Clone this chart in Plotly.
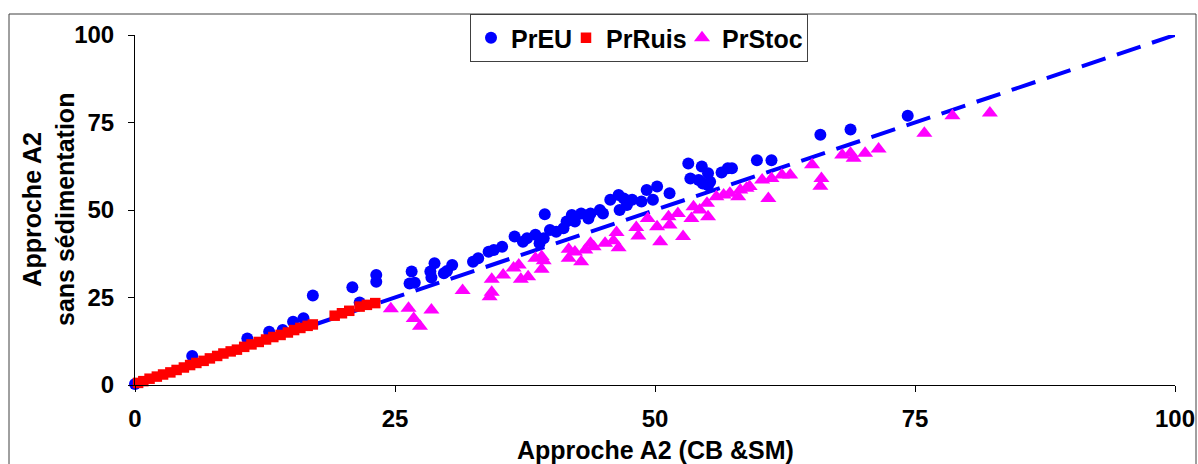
import plotly.graph_objects as go

# ---------------- data ----------------
preu_x = [0.0, 5.5, 10.8, 12.9, 14.2, 15.2, 16.2, 17.1, 20.9, 21.6, 23.2, 23.2, 26.6, 26.4, 26.9,
          28.4, 28.8, 28.5, 29.7, 30.0, 30.5, 32.5, 33.0, 34.0, 34.5, 35.3, 36.5, 37.3, 37.7, 38.5,
          38.9, 39.4, 39.3, 39.9, 40.5, 41.2, 41.5, 42.0, 42.3, 42.9, 43.6, 43.8, 44.7, 45.0, 45.7,
          46.5, 46.6, 47.0, 47.3, 47.8, 48.7, 49.2, 49.8, 50.2, 51.4, 53.2, 53.4, 54.2, 54.5, 54.6,
          55.1, 55.3, 55.1, 56.4, 57.0, 57.4, 59.8, 61.2, 65.9, 68.8, 74.3]
preu_y = [0.3, 8.3, 13.3, 15.2, 15.7, 18.1, 19.1, 25.6, 27.9, 23.6, 31.4, 29.5, 32.4, 29.0, 29.2,
          32.4, 34.8, 30.7, 31.9, 32.6, 34.3, 35.2, 36.2, 38.1, 38.6, 39.5, 42.4, 40.9, 41.9, 42.9,
          40.5, 48.8, 41.9, 44.3, 43.8, 44.8, 46.7, 48.6, 46.7, 49.0, 47.6, 49.0, 50.0, 49.0, 52.9,
          54.3, 50.0, 53.3, 51.4, 52.9, 52.4, 55.7, 52.9, 56.7, 54.8, 63.3, 59.0, 58.6, 62.4, 57.6,
          60.5, 58.1, 57.1, 60.7, 61.9, 61.9, 64.2, 64.2, 71.5, 73.0, 76.9]

prruis_x = [0.3, 0.8, 1.4, 2.1, 2.7, 3.4, 4.0, 4.7, 5.3, 5.9, 6.6, 7.2, 7.9, 8.5, 9.2, 9.8, 10.5,
            11.2, 11.9, 12.6, 13.3, 14.0, 14.7, 15.3, 15.9, 16.6, 17.1, 19.2, 19.9, 20.6, 21.6,
            22.3, 23.1]
prruis_y = [0.6, 1.1, 1.8, 2.4, 3.0, 3.6, 4.3, 5.0, 5.7, 6.3, 6.9, 7.6, 8.3, 9.0, 9.6, 10.1, 10.9,
            11.6, 12.3, 13.0, 13.7, 14.3, 15.0, 15.7, 16.3, 16.9, 17.3, 19.8, 20.5, 21.2, 22.4,
            22.9, 23.4]

prstoc_x = [24.6, 26.3, 26.8, 27.4, 28.5, 31.5, 34.1, 34.3, 34.3, 35.4, 36.4, 36.9, 37.1, 37.8,
            38.5, 39.1, 39.1, 39.3, 41.7, 41.7, 42.3, 42.9, 43.3, 43.8, 44.1, 45.2, 46.0, 46.3,
            46.5, 48.2, 48.4, 49.3, 50.2, 50.5, 51.3, 51.4, 52.2, 52.7, 53.5, 53.7, 54.3, 55.0,
            55.1, 55.9, 56.6, 57.2, 58.0, 58.2, 58.8, 59.1, 60.3, 60.9, 61.2, 62.2, 63.0, 65.1,
            66.0, 65.9, 68.0, 68.8, 69.1, 70.2, 71.5, 75.9, 78.6, 82.2]
prstoc_y = [21.8, 21.9, 19.0, 16.8, 21.4, 27.0, 25.2, 26.5, 30.2, 31.4, 33.4, 34.3, 30.2, 30.9,
            36.2, 36.7, 33.1, 35.5, 38.8, 36.2, 38.0, 35.2, 38.6, 40.5, 39.5, 40.5, 41.2, 43.6,
            39.2, 45.0, 42.6, 47.6, 45.2, 40.9, 48.1, 45.7, 49.0, 42.4, 47.6, 50.9, 50.0, 51.9,
            48.1, 53.8, 54.3, 54.8, 53.8, 55.7, 56.2, 56.7, 58.6, 53.3, 59.0, 60.0, 60.0, 62.9,
            59.0, 56.8, 65.7, 66.2, 64.8, 66.2, 67.4, 71.9, 76.9, 77.7]

ref_line_x = [0, 100]
ref_line_y = [0, 100]

tick_vals = [0, 25, 50, 75, 100]
tick_text = ["0", "25", "50", "75", "100"]

# ---------------- figure ----------------
FONT = "Arial, 'Liberation Sans', sans-serif"
fig = go.Figure()

fig.add_trace(go.Scatter(x=ref_line_x, y=ref_line_y, mode="lines",
                         line=dict(color="#0000FF", width=4, dash="25px,12px"),
                         showlegend=False, hoverinfo="skip"))
fig.add_trace(go.Scatter(x=preu_x, y=preu_y, mode="markers", name="PrEU",
                         marker=dict(symbol="circle", size=12, color="#0000FF"),
                         cliponaxis=False, legendwidth=50))
fig.add_trace(go.Scatter(x=prruis_x, y=prruis_y, mode="markers", name="PrRuis",
                         marker=dict(symbol="square", size=10.5, color="#FF0000"),
                         cliponaxis=False, legendwidth=71))
fig.add_trace(go.Scatter(x=prstoc_x, y=prstoc_y, mode="markers", name="PrStoc",
                         marker=dict(symbol="triangle-up", size=14, color="#FF00FF"),
                         cliponaxis=False, legendwidth=80))

axis_common = dict(range=[0, 100], tickvals=tick_vals, ticktext=tick_text,
                   showgrid=False, zeroline=False, showline=True, linecolor="#000000",
                   linewidth=1, ticks="outside", ticklen=6, tickcolor="#000000",
                   automargin=False,
                   tickfont=dict(family=FONT, size=24, color="#000000", weight="bold"))

fig.update_xaxes(**axis_common, ticklabelstandoff=6)
fig.update_yaxes(**axis_common, ticklabelstandoff=9)

L, R, T, B = 135, 23, 35, 79
W, H = 1198, 464
pw, ph = W - L - R, H - T - B

def px_x(p):
    return (p - L) / pw

def px_y(p):
    return (H - B - p) / ph

fig.update_layout(
    width=W, height=H,
    margin=dict(l=L, r=R, t=T, b=B, autoexpand=False),
    paper_bgcolor="#FFFFFF", plot_bgcolor="#FFFFFF",
    font=dict(family=FONT, color="#000000"),
    showlegend=True,
    legend=dict(orientation="h", x=px_x(470), y=px_y(14), xanchor="left", yanchor="top",
                bgcolor="#FFFFFF", bordercolor="#404040", borderwidth=1,
                font=dict(family=FONT, size=25, color="#000000", weight="bold"),
                itemclick=False),
    shapes=[dict(type="rect", xref="paper", yref="paper",
                 x0=px_x(9), x1=px_x(1196), y0=px_y(480), y1=px_y(14),
                 line=dict(color="#404040", width=1), fillcolor="rgba(0,0,0,0)",
                 layer="below")],
    annotations=[
        dict(text="Approche A2 (CB &SM)", xref="paper", yref="paper",
             x=0.5, y=px_y(450), xanchor="center", yanchor="middle", showarrow=False,
             font=dict(family=FONT, size=25, color="#000000", weight="bold")),
        dict(text="Approche A2<br>sans sédimentation", xref="paper", yref="paper",
             x=px_x(48), y=0.5, xanchor="center", yanchor="middle", showarrow=False,
             textangle=-90,
             font=dict(family=FONT, size=25, color="#000000", weight="bold")),
    ],
)

fig.write_html("out.html")
